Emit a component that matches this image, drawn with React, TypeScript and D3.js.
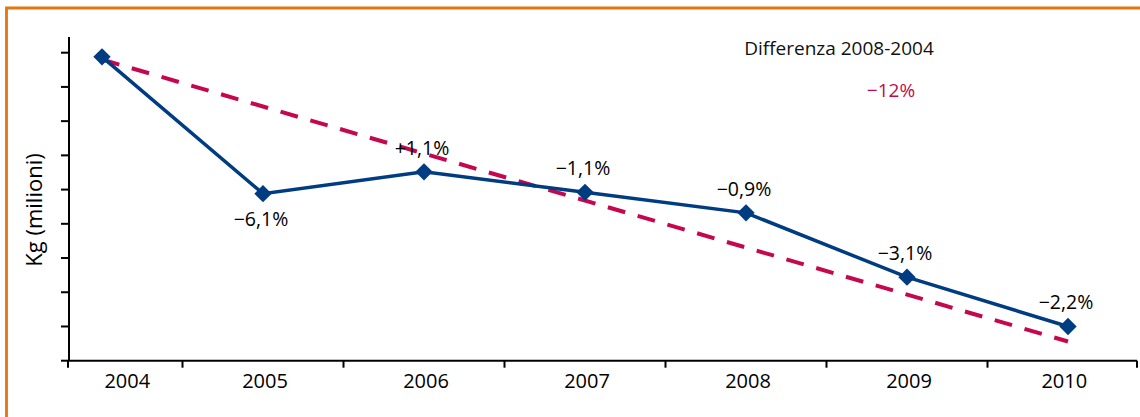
import React, { useRef, useEffect } from "react";
import * as d3 from "d3";

// Kg (milioni)
const years = ["2004", "2005", "2006", "2007", "2008", "2009", "2010"];
const values = [164.7, 154.7, 156.3, 154.8, 153.3, 148.6, 145.0];
const changeLabels = ["", "\u22126,1%", "+1,1%", "\u22121,1%", "\u22120,9%", "\u22123,1%", "\u22122,2%"];
const trendYears = ["2004", "2010"];
const trendValues = [164.5, 143.9];
const yDomain = [142.5, 165];
const yStep = 2.5;
const diffTitle = "Differenza 2008-2004";
const diffValue = "\u221212%";

const W = 1140;
const H = 417;
const FONT = "'Open Sans', 'Noto Sans', sans-serif";
const BLUE = "#003C82";
const RED = "#C5084E";

const App: React.FC = () => {
  const svgRef = useRef<SVGSVGElement>(null);

  useEffect(() => {
    if (!svgRef.current) return;
    const svg = d3.select(svgRef.current);
    svg.selectAll("*").remove();

    const left = 68;
    const right = 1137;
    const top = 52.7;
    const bottom = 360.7;

    const x = d3.scalePoint<string>().domain(years).range([102, 1068]);
    const y = d3.scaleLinear().domain(yDomain).range([bottom, top]);
    const step = x.step();

    // orange frame
    svg
      .append("path")
      .attr("d", `M6.5,${H} V8 H${W}`)
      .attr("fill", "none")
      .attr("stroke", "#E2760F")
      .attr("stroke-width", 2.8);

    // y axis
    const yTicks = d3.range(yDomain[0], yDomain[1] + 0.001, yStep);
    const yAxis = svg.append("g");
    yAxis
      .append("line")
      .attr("x1", left + 1)
      .attr("x2", left + 1)
      .attr("y1", 37)
      .attr("y2", bottom)
      .attr("stroke", "#000")
      .attr("stroke-width", 2);
    yAxis
      .selectAll("line.tick")
      .data(yTicks)
      .join("line")
      .attr("class", "tick")
      .attr("x1", left - 7)
      .attr("x2", left + 1)
      .attr("y1", (d) => y(d))
      .attr("y2", (d) => y(d))
      .attr("stroke", "#000")
      .attr("stroke-width", 2);

    // x axis
    const bounds = [left, ...years.slice(0, -1).map((d) => (x(d) as number) + step / 2), right];
    const xAxis = svg.append("g");
    xAxis
      .append("line")
      .attr("x1", left)
      .attr("x2", right)
      .attr("y1", bottom)
      .attr("y2", bottom)
      .attr("stroke", "#000")
      .attr("stroke-width", 2);
    xAxis
      .selectAll("line.tick")
      .data(bounds)
      .join("line")
      .attr("class", "tick")
      .attr("x1", (d) => d)
      .attr("x2", (d) => d)
      .attr("y1", bottom)
      .attr("y2", bottom + 7)
      .attr("stroke", "#000")
      .attr("stroke-width", 2);
    xAxis
      .selectAll("text")
      .data(years)
      .join("text")
      .attr("x", (_, i) => (bounds[i] + bounds[i + 1]) / 2 + 2)
      .attr("y", 388)
      .attr("text-anchor", "middle")
      .style("font-family", FONT)
      .style("font-size", "20px")
      .style("fill", "#000")
      .text((d) => d);

    svg
      .append("text")
      .attr("transform", `translate(42,210) rotate(-90)`)
      .attr("text-anchor", "middle")
      .style("font-family", FONT)
      .style("font-size", "22px")
      .style("fill", "#000")
      .text("Kg (milioni)");

    // trend (dashed)
    svg
      .append("line")
      .attr("x1", x(trendYears[0]) as number)
      .attr("y1", y(trendValues[0]))
      .attr("x2", x(trendYears[1]) as number)
      .attr("y2", y(trendValues[1]))
      .attr("stroke", RED)
      .attr("stroke-width", 4)
      .attr("stroke-dasharray", "18 13");

    // series line
    const line = d3
      .line<number>()
      .x((_, i) => x(years[i]) as number)
      .y((d) => y(d));
    svg
      .append("path")
      .datum(values)
      .attr("d", line)
      .attr("fill", "none")
      .attr("stroke", BLUE)
      .attr("stroke-width", 3.5);

    const diamond = d3.symbol().type(d3.symbolSquare).size(150);
    svg
      .selectAll("path.marker")
      .data(values)
      .join("path")
      .attr("class", "marker")
      .attr("d", diamond() as string)
      .attr("transform", (d, i) => `translate(${x(years[i])},${y(d)}) rotate(45)`)
      .attr("fill", BLUE);

    // change labels
    svg
      .selectAll("text.lbl")
      .data(changeLabels)
      .join("text")
      .attr("class", "lbl")
      .attr("x", (_, i) => (x(years[i]) as number) - 2)
      .attr("y", (d, i) => (i === 1 ? y(values[i]) + 32 : y(values[i]) - 17))
      .attr("text-anchor", "middle")
      .style("font-family", FONT)
      .style("font-size", "19.5px")
      .style("fill", "#000")
      .text((d) => d);

    svg
      .append("text")
      .attr("x", 839)
      .attr("y", 55)
      .attr("text-anchor", "middle")
      .style("font-family", FONT)
      .style("font-size", "19px")
      .style("fill", "#111")
      .text(diffTitle);

    svg
      .append("text")
      .attr("x", 891)
      .attr("y", 97)
      .attr("text-anchor", "middle")
      .style("font-family", FONT)
      .style("font-size", "19px")
      .style("fill", RED)
      .text(diffValue);
  }, []);

  return (
    <svg
      ref={svgRef}
      width={W}
      height={H}
      style={{ position: "absolute", left: 0, top: 0, background: "#fff" }}
    />
  );
};

export default App;
